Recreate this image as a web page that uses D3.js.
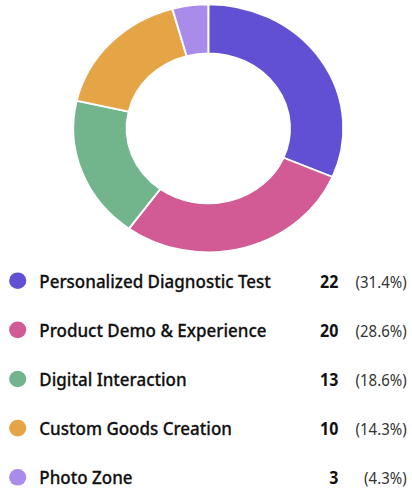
<!DOCTYPE html>
<html>
<head>
<meta charset="utf-8">
<script src="https://cdn.jsdelivr.net/npm/d3@7"></script>
<style>
  body { margin: 0; background: #fff; }
  svg { display: block; font-family: 'Noto Sans', sans-serif; }
</style>
</head>
<body>
<svg width="412" height="492"></svg>
<script>
// legend data
var categories = ["Personalized Diagnostic Test", "Product Demo & Experience", "Digital Interaction", "Custom Goods Creation", "Photo Zone"];
var counts = [22, 20, 13, 10, 3];
var percentLabels = ["(31.4%)", "(28.6%)", "(18.6%)", "(14.3%)", "(4.3%)"];
// slice sizes as they appear in the donut
var sliceValues = [22, 20, 13, 12, 3];
var colors = ["#6250d4", "#d25a95", "#72b58c", "#e5a446", "#a98cea"];

var svg = d3.select("svg");

var cx = 208.3, cy = 128.3,
    outerR = 124, innerR = 75,
    stretch = 1.089;

var pie = d3.pie().sort(null).value(function(d){ return d; });
var arc = d3.arc().innerRadius(innerR).outerRadius(outerR);

var donut = svg.append("g")
    .attr("transform", "translate(" + cx + "," + cy + ") scale(" + stretch + ",1)");

donut.selectAll("path")
    .data(pie(sliceValues))
    .enter()
    .append("path")
    .attr("d", arc)
    .attr("fill", function(d, i){ return colors[i]; })
    .attr("stroke", "#fff")
    .attr("stroke-width", 1.8);

// legend
var rowY = d3.scalePoint().domain(d3.range(categories.length)).range([280.7, 477.3]);

var rows = svg.selectAll(".row")
    .data(categories)
    .enter()
    .append("g")
    .attr("class", "row")
    .attr("transform", function(d, i){ return "translate(0," + rowY(i) + ")"; });

rows.append("ellipse")
    .attr("cx", 17.7)
    .attr("cy", 0)
    .attr("rx", 8.6)
    .attr("ry", 8.3)
    .attr("fill", function(d, i){ return colors[i]; });

// text is a bit taller than Noto Sans at this width
rows.append("text")
    .attr("transform", "translate(39.3,7) scale(1,1.1)")
    .attr("font-size", "17px")
    .attr("font-weight", 500)
    .attr("fill", "#111")
    .attr("stroke", "#111")
    .attr("stroke-width", 0.25)
    .text(function(d){ return d; });

rows.append("text")
    .attr("transform", "translate(338.3,7) scale(1,1.1)")
    .attr("text-anchor", "end")
    .attr("font-size", "16px")
    .attr("font-weight", 700)
    .attr("fill", "#111")
    .text(function(d, i){ return counts[i]; });

rows.append("text")
    .attr("transform", "translate(406.7,7) scale(1,1.1)")
    .attr("text-anchor", "end")
    .attr("font-size", "15px")
    .attr("fill", "#333")
    .text(function(d, i){ return percentLabels[i]; });
</script>
</body>
</html>
